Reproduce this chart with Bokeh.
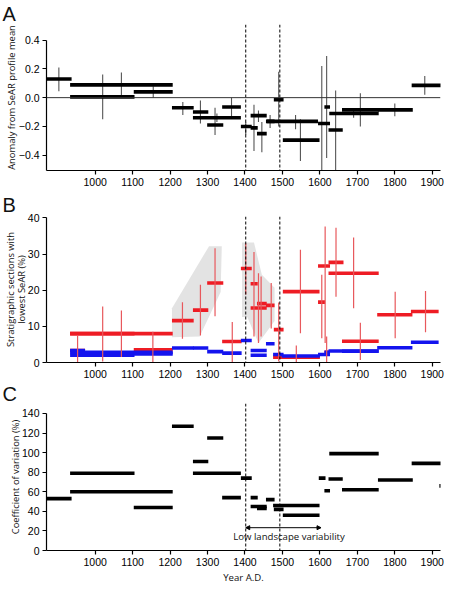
from bokeh.plotting import figure
from bokeh.layouts import column
from bokeh.models import (Span, Label, Arrow, NormalHead, FixedTicker, CustomJSTickFormatter,
                          Title)
from bokeh.embed import file_html
from bokeh.resources import INLINE

# ---------------- shared ----------------
YEAR_TICKS = [1000, 1100, 1200, 1300, 1400, 1500, 1600, 1700, 1800, 1900]
DIVIDERS = [1402, 1493]
X_LABEL = "Year A.D."

# ---------------- panel A : anomaly from SeAR profile mean ----------------
A_START = [870, 933, 933, 1103, 1205, 1261, 1261, 1299, 1339, 1389, 1415, 1415, 1432,
           1456, 1458, 1477, 1501, 1595, 1612, 1623, 1625, 1659, 1755, 1845]
A_END = [937, 1207, 1105, 1207, 1263, 1302, 1389, 1342, 1389, 1418, 1434, 1458, 1458,
         1479, 1595, 1503, 1599, 1627, 1627, 1661, 1757, 1757, 1848, 1925]
A_VALUE = [0.13, 0.089, 0.005, 0.04, -0.07, -0.10, -0.14, -0.19, -0.065, -0.20, -0.21, -0.125, -0.25,
           -0.165, -0.165, -0.015, -0.295, -0.18, -0.065, -0.225, -0.11, -0.085, -0.085, 0.085]
A_ERR_X = [903, 1070, 1020, 1155, 1234, 1281, 1325, 1320, 1364, 1402, 1424, 1436, 1445,
           1467, 1535, 1490, 1548, 1605, 1618, 1642, 1690, 1708, 1800, 1880]
A_ERR_LO = [0.045, 0.01, -0.15, 0.0, -0.12, -0.18, -0.17, -0.26, -0.13, -0.26, -0.37, -0.17, -0.38,
            -0.21, -0.22, -0.20, -0.44, -0.51, -0.42, -0.51, -0.14, -0.20, -0.13, 0.02]
A_ERR_HI = [0.21, 0.175, 0.16, 0.08, -0.03, -0.02, -0.11, -0.07, 0.0, -0.17, -0.05, -0.09, -0.17,
            -0.12, -0.12, 0.18, -0.15, 0.22, 0.29, 0.05, -0.08, 0.03, -0.04, 0.15]
A_TICKS = [-0.4, -0.2, 0.0, 0.2, 0.4]
A_TITLE = "Anomaly from SeAR profile mean"

# ---------------- panel B : sections with lowest SeAR ----------------
RED_START = [933, 933, 933, 1103, 1205, 1261, 1299, 1339, 1389, 1415, 1415, 1432, 1456,
             1477, 1501, 1475, 1595, 1595, 1612, 1623, 1623, 1659, 1753, 1843]
RED_END = [973, 1105, 1207, 1207, 1263, 1302, 1342, 1391, 1418, 1434, 1458, 1458, 1479,
           1503, 1599, 1600, 1614, 1627, 1627, 1663, 1757, 1757, 1847, 1917]
RED_VALUE = [3.3, 8.0, 8.0, 3.5, 11.6, 14.5, 22.0, 5.8, 26.0, 21.8, 15.1, 16.3, 15.8,
             9.1, 19.6, 1.5, 16.7, 26.7, 2.8, 27.7, 24.7, 5.9, 13.2, 14.1]
RED_ERR_X = [953, 1020, 1070, 1154, 1233, 1281, 1320, 1366, 1402, 1424, 1436, 1443, 1470,
             1490, 1548, 1537, 1605, 1614, 1618, 1643, 1690, 1708, 1801, 1882]
RED_ERR_LO = [0.0, 0.3, 1.5, 0.0, 6.6, 7.5, 12.8, 0.0, 18.8, 7.2, 5.4, 7.2, 9.4,
              0.3, 8.1, 0.0, 6.7, 5.4, 0.0, 18.2, 15.0, 0.7, 6.7, 8.4]
RED_ERR_HI = [7.4, 15.5, 14.4, 8.5, 16.7, 21.5, 31.6, 11.2, 33.0, 30.6, 24.7, 23.8, 22.0,
              16.6, 31.2, 4.7, 24.3, 37.6, 7.2, 37.3, 34.6, 11.0, 19.6, 19.8]
BLUE_START = [933, 933, 933, 1103, 1205, 1261, 1299, 1339, 1389, 1415, 1415, 1456,
              1475, 1498, 1595, 1612, 1623, 1659, 1753, 1843]
BLUE_END = [973, 1207, 1105, 1207, 1263, 1302, 1342, 1391, 1418, 1458, 1458, 1479,
            1503, 1600, 1627, 1627, 1757, 1757, 1847, 1917]
BLUE_VALUE = [3.3, 2.8, 2.0, 2.4, 4.0, 4.0, 3.0, 2.6, 6.1, 3.3, 2.0, 5.2,
              2.2, 1.8, 2.2, 2.8, 3.2, 3.1, 4.1, 5.6]
BAND1_YEAR = [1205, 1304, 1338, 1335, 1279, 1205]
BAND1_VALUE = [15.0, 32.2, 32.2, 19.5, 7.2, 7.0]
BAND2_YEAR = [1392, 1424, 1445, 1479, 1479, 1436, 1406, 1392]
BAND2_VALUE = [33.2, 33.2, 24.3, 20.7, 11.5, 5.4, 12.6, 12.6]
B_TICKS = [0, 10, 20, 30, 40]
B_TITLE = ["Stratigraphic sections with", "lowest SeAR (%)"]

# ---------------- panel C : coefficient of variation ----------------
C_START = [870, 933, 933, 1103, 1205, 1261, 1261, 1299, 1339, 1389, 1415, 1415, 1432, 1456,
           1475, 1477, 1501, 1597, 1612, 1623, 1625, 1659, 1755, 1845, 1919]
C_END = [937, 1105, 1207, 1207, 1263, 1302, 1389, 1342, 1389, 1418, 1434, 1458, 1458, 1479,
         1599, 1503, 1599, 1615, 1627, 1661, 1757, 1757, 1848, 1925, 1930]
C_VALUE = [53, 79, 60, 44, 127, 91, 79, 115, 54, 74, 54, 45, 43, 52,
           46, 42, 36, 74, 61, 73, 99, 62, 72, 89, 66]
C_TICKS = [0, 20, 40, 60, 80, 100, 120, 140]
C_TITLE = "Coefficient of variation (%)"
LOW_VAR_SPAN = [1402, 1603]
LOW_VAR_LEVEL = 23.3
LOW_VAR_TEXT = "Low landscape variability"
LOW_VAR_TEXT_LEVEL = 14

# ---------------- layout ----------------
X0, X1 = 870, 1922
FW = 394
ML, MR = 46, 4
TICK_FONT = "Liberation Sans"
TITLE_FONT = "Open Sans"
RED = "#ee1c24"
RED_ERR = "#e8585c"
BLUE = "#1414ee"
BAR_W = 3.6


def make_fig(y0, y1, fh, top, bottom, spine_top, ticks, fmt_js):
    p = figure(x_range=(X0, X1), y_range=(y0, y1), frame_width=FW, frame_height=fh,
               min_border_left=ML, min_border_right=MR, min_border_top=top,
               min_border_bottom=bottom, output_backend="svg", toolbar_location=None,
               title=None)
    p.outline_line_color = None
    p.xgrid.visible = False
    p.ygrid.visible = False
    p.background_fill_color = "white"
    p.border_fill_color = "white"
    for ax in (p.xaxis[0], p.yaxis[0]):
        ax.axis_line_width = 1.2
        ax.axis_line_color = "black"
        ax.major_tick_line_width = 1.2
        ax.major_tick_line_color = "black"
        ax.major_tick_out = 4
        ax.major_tick_in = 0
        ax.minor_tick_out = 0
        ax.minor_tick_in = 0
        ax.minor_tick_line_color = None
        ax.major_label_text_font = TICK_FONT
        ax.major_label_text_font_size = "10.5px"
        ax.major_label_text_color = "black"
        ax.major_label_standoff = 3
    p.xaxis.ticker = FixedTicker(ticks=YEAR_TICKS)
    p.yaxis.ticker = FixedTicker(ticks=ticks)
    p.yaxis.bounds = (y0, spine_top)
    p.yaxis.formatter = CustomJSTickFormatter(code=fmt_js)
    for d in DIVIDERS:
        p.add_layout(Span(location=d, dimension="height", line_color="black",
                          line_width=1, line_dash="3 2"))
    return p


def side_title(p, txt, side, size, font, align="center", offset=0, standoff=0):
    p.add_layout(Title(text=txt, align=align, offset=offset, standoff=standoff,
                       text_font=font, text_font_size=size, text_font_style="normal",
                       text_color="#111111"), side)


# ---------- Panel A ----------
AY0, AY1, AFH = -0.506, 0.508, 146
pA = make_fig(AY0, AY1, AFH, 23, 21, 0.4, A_TICKS,
              "return tick < 0 ? '\\u2212' + Math.abs(tick).toFixed(1) : tick.toFixed(1);")
pA.add_layout(Span(location=0, dimension="width", line_color="#333333", line_width=1))
pA.segment(x0=A_ERR_X, y0=A_ERR_LO, x1=A_ERR_X, y1=A_ERR_HI, line_color="#555555", line_width=1.1)
pA.segment(x0=A_START, y0=A_VALUE, x1=A_END, y1=A_VALUE, line_color="black",
           line_width=BAR_W, line_cap="butt")
side_title(pA, "A", "above", "20px", TICK_FONT, "left", -44, 0)
side_title(pA, A_TITLE, "left", "9.4px", TITLE_FONT, "center", -6, -4.5)

# ---------- Panel B ----------
BY0, BY1, BFH = 0, 40.4, 146
pB = make_fig(BY0, BY1, BFH, 21, 20, 40, B_TICKS, "return tick.toFixed(0);")
pB.patch(BAND1_YEAR, BAND1_VALUE, fill_color="#e3e3e3", line_color=None)
pB.patch(BAND2_YEAR, BAND2_VALUE, fill_color="#e3e3e3", line_color=None)
pB.segment(x0=RED_START, y0=RED_VALUE, x1=RED_END, y1=RED_VALUE, line_color=RED,
           line_width=BAR_W, line_cap="butt")
pB.segment(x0=BLUE_START, y0=BLUE_VALUE, x1=BLUE_END, y1=BLUE_VALUE, line_color=BLUE,
           line_width=BAR_W, line_cap="butt")
pB.segment(x0=RED_ERR_X, y0=RED_ERR_LO, x1=RED_ERR_X, y1=RED_ERR_HI, line_color=RED_ERR,
           line_width=1.2)
side_title(pB, "B", "above", "20px", TICK_FONT, "left", -44, 1)
side_title(pB, B_TITLE[1], "left", "9.4px", TITLE_FONT, "center", 0, -6)
side_title(pB, B_TITLE[0], "left", "9.4px", TITLE_FONT, "center", 7, -2)

# ---------- Panel C ----------
CY0, CY1, CFH = 0, 150.2, 147
pC = make_fig(CY0, CY1, CFH, 18, 32, 140, C_TICKS, "return tick.toFixed(0);")
pC.segment(x0=C_START, y0=C_VALUE, x1=C_END, y1=C_VALUE, line_color="black",
           line_width=BAR_W, line_cap="butt")
pC.add_layout(Arrow(x_start=LOW_VAR_SPAN[0], x_end=LOW_VAR_SPAN[1], y_start=LOW_VAR_LEVEL,
                    y_end=LOW_VAR_LEVEL, line_width=1, line_color="black",
                    start=NormalHead(size=4, fill_color="black", line_color="black"),
                    end=NormalHead(size=4, fill_color="black", line_color="black")))
pC.add_layout(Label(x=(LOW_VAR_SPAN[0] + LOW_VAR_SPAN[1]) / 2 + 15, y=LOW_VAR_TEXT_LEVEL,
                    text=LOW_VAR_TEXT, text_font=TITLE_FONT, text_font_size="9.6px",
                    text_color="#111111", text_align="center", text_baseline="middle"))
side_title(pC, "C", "above", "20px", TICK_FONT, "left", -44, -3)
side_title(pC, C_TITLE, "left", "9.4px", TITLE_FONT, "center", 8, -6)
side_title(pC, X_LABEL, "below", "9.6px", TITLE_FONT, "center", 14, 1)

layout = column(pA, pB, pC, spacing=0)
open("out.html", "w").write(file_html(layout, INLINE))
